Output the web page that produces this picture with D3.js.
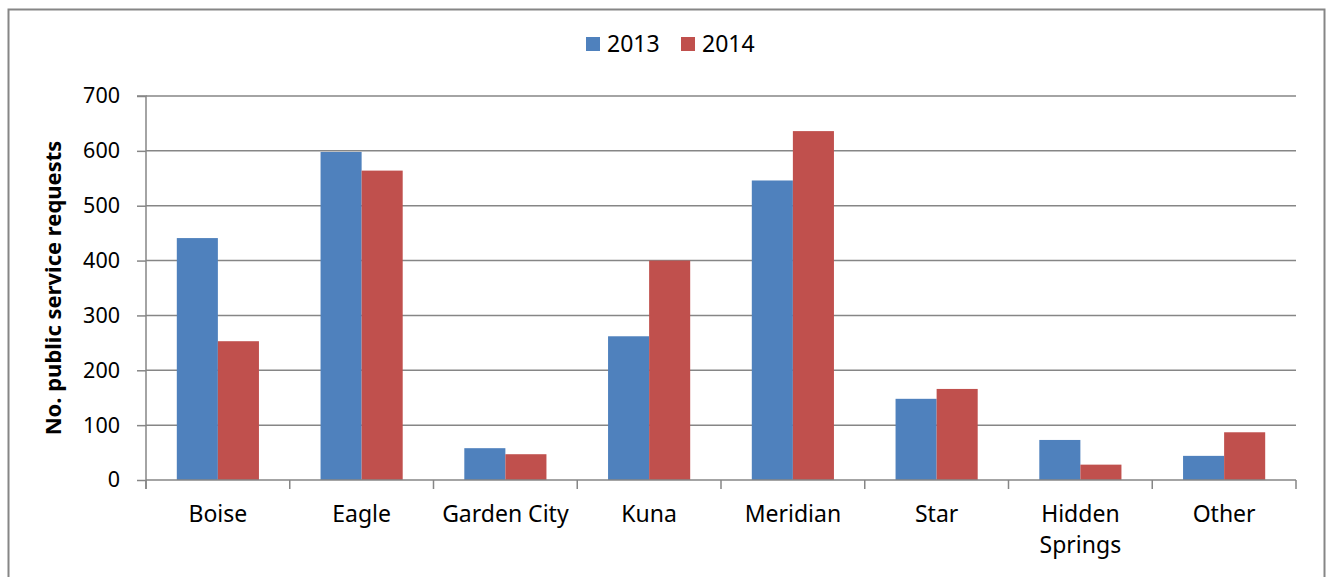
<!DOCTYPE html>
<html>
<head>
<meta charset="utf-8">
<script src="https://cdn.jsdelivr.net/npm/d3@7"></script>
<style>
  body { margin: 0; background: #fff; }
  svg { display: block; }
  text { font-family: "Noto Sans", "Open Sans", sans-serif; fill: #000; }
</style>
</head>
<body>
<div id="chart"></div>
<script>
var width = 1330;
var height = 577;

// Chart data
var categories = ["Boise", "Eagle", "Garden City", "Kuna", "Meridian", "Star", "Hidden Springs", "Other"];
var seriesNames = ["2013", "2014"];
var values2013 = [441, 598, 58, 262, 546, 148, 73, 44];
var values2014 = [253, 564, 47, 400, 636, 166, 28, 87];
var yTicks = [0, 100, 200, 300, 400, 500, 600, 700];
var colors = ["#4f81bd", "#c0504d"];

var margin = { top: 96, left: 146, right: 34, bottom: 97 };

var svg = d3
  .select("#chart")
  .append("svg")
  .attr("width", width)
  .attr("height", height);

// outer frame of the embedded chart
svg.append("rect")
  .attr("x", 8.5)
  .attr("y", 9.5)
  .attr("width", 1316)
  .attr("height", 600)
  .attr("fill", "none")
  .attr("stroke", "#868686")
  .attr("stroke-width", 2);

var x0 = d3.scaleBand()
  .domain(categories)
  .range([margin.left, width - margin.right]);

var x1 = d3.scaleBand()
  .domain(seriesNames)
  .range([0, x0.bandwidth()])
  .paddingOuter(0.75)
  .paddingInner(0);

var y = d3.scaleLinear()
  .domain([0, 700])
  .range([height - margin.bottom, margin.top]);

// gridlines
svg.append("g")
  .selectAll("line")
  .data(yTicks.slice(1))
  .enter()
  .append("line")
  .attr("x1", margin.left)
  .attr("x2", width - margin.right)
  .attr("y1", function (d) { return y(d); })
  .attr("y2", function (d) { return y(d); })
  .attr("stroke", "#868686")
  .attr("stroke-width", 1.5);

// bars
var data = categories.map(function (c, i) {
  return { cat: c, vals: [values2013[i], values2014[i]] };
});

var groups = svg.append("g")
  .selectAll("g")
  .data(data)
  .enter()
  .append("g")
  .attr("transform", function (d) { return "translate(" + x0(d.cat) + ",0)"; });

groups.selectAll("rect")
  .data(function (d) {
    return d.vals.map(function (v, j) { return { name: seriesNames[j], v: v, j: j }; });
  })
  .enter()
  .append("rect")
  .attr("x", function (d) { return x1(d.name); })
  .attr("width", x1.bandwidth())
  .attr("y", function (d) { return y(d.v); })
  .attr("height", function (d) { return y(0) - y(d.v); })
  .attr("fill", function (d) { return colors[d.j]; });

// y axis
var yAxis = d3.axisLeft(y).tickValues(yTicks).tickSize(9).tickPadding(17);
var gy = svg.append("g")
  .attr("transform", "translate(" + margin.left + ",0)")
  .call(yAxis);
gy.select(".domain").attr("stroke", "#868686").attr("stroke-width", 1.5)
  .attr("d", "M-9," + y(700) + "H0V" + (y(0) + 9));
gy.selectAll(".tick line").attr("stroke", "#868686").attr("stroke-width", 1.5);
gy.selectAll(".tick text").attr("font-size", 21.5).attr("font-family", "Noto Sans").attr("fill", "#000");

// x axis baseline and ticks at category boundaries
svg.append("line")
  .attr("x1", margin.left)
  .attr("x2", width - margin.right)
  .attr("y1", y(0))
  .attr("y2", y(0))
  .attr("stroke", "#868686")
  .attr("stroke-width", 1.5);

var boundaries = categories.map(function (c) { return x0(c); }).concat([width - margin.right]);
svg.append("g")
  .selectAll("line")
  .data(boundaries)
  .enter()
  .append("line")
  .attr("x1", function (d) { return d; })
  .attr("x2", function (d) { return d; })
  .attr("y1", y(0))
  .attr("y2", y(0) + 9)
  .attr("stroke", "#868686")
  .attr("stroke-width", 1.5);

// category labels, wrapped
var labels = svg.append("g")
  .selectAll("text")
  .data(categories)
  .enter()
  .append("text")
  .attr("x", function (d) { return x0(d) + x0.bandwidth() / 2; })
  .attr("y", 522)
  .attr("text-anchor", "middle")
  .attr("font-size", 23);

labels.each(function (d) {
  var words = d === "Hidden Springs" ? ["Hidden", "Springs"] : [d];
  var t = d3.select(this);
  words.forEach(function (w, k) {
    t.append("tspan")
      .attr("x", x0(d) + x0.bandwidth() / 2)
      .attr("dy", k === 0 ? 0 : 31)
      .text(w);
  });
});

// y axis title
svg.append("text")
  .attr("transform", "translate(61," + ((y(0) + y(700)) / 2) + ")rotate(-90)")
  .attr("text-anchor", "middle")
  .attr("font-size", 22)
  .attr("font-weight", "bold")
  .text("No. public service requests");

// legend
var legend = svg.append("g")
  .selectAll("g")
  .data(seriesNames)
  .enter()
  .append("g")
  .attr("transform", function (d, i) { return "translate(" + (586 + i * 95) + ",0)"; });

legend.append("rect")
  .attr("x", 0)
  .attr("y", 37)
  .attr("width", 14)
  .attr("height", 14)
  .attr("fill", function (d, i) { return colors[i]; });

legend.append("text")
  .attr("x", 21)
  .attr("y", 52)
  .attr("font-size", 23)
  .text(function (d) { return d; });
</script>
</body>
</html>
